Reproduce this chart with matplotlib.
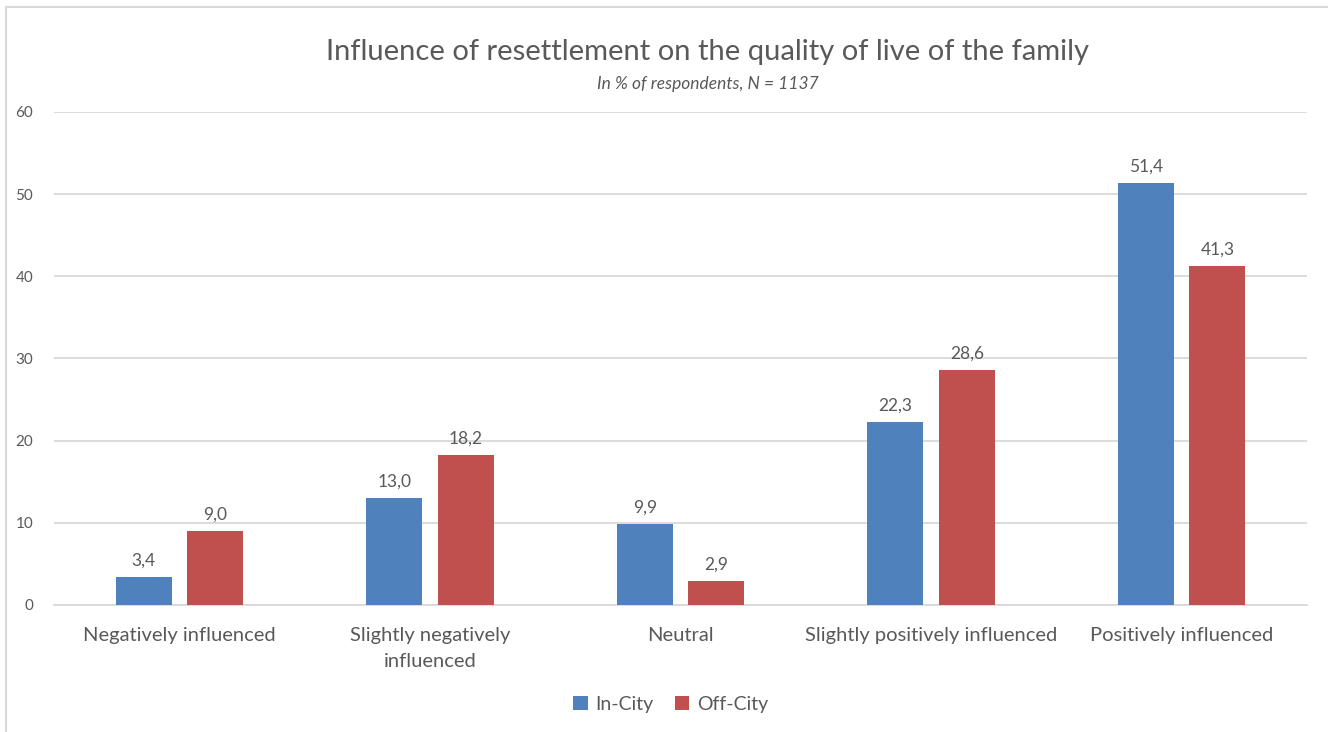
import numpy as np
import matplotlib
matplotlib.use('Agg')
from matplotlib import pyplot as plt
from matplotlib.patches import Rectangle

plt.rcParams['font.family'] = ['Lato', 'DejaVu Sans']

# Data
categories = ['Negatively influenced', 'Slightly negatively\ninfluenced', 'Neutral',
              'Slightly positively influenced', 'Positively influenced']
in_city = [3.4, 13.0, 9.9, 22.3, 51.4]
off_city = [9.0, 18.2, 2.9, 28.6, 41.3]
series_names = ['In-City', 'Off-City']
colors = ['#4f81bd', '#c0504d']
text_color = '#595959'

fig = plt.figure(figsize=(13.28, 7.32), dpi=100)
ax = fig.add_axes([0.0407, 0.1735, 0.9435, 0.6735])

# outer chart border (only top/left visible in the original crop)
fig.patches.append(Rectangle((6 / 1328, -0.1), 1.2, 1 - 7 / 732 + 0.1, transform=fig.transFigure,
                             fill=False, edgecolor='#d9d9d9', linewidth=1.5))

x = np.arange(len(categories))
width = 0.2235
offset = 0.1425

for i, (vals, name) in enumerate(zip([in_city, off_city], series_names)):
    pos = x - offset if i == 0 else x + offset
    bars = ax.bar(pos, vals, width, color=colors[i], label=name, zorder=3)
    for b, v in zip(bars, vals):
        ax.annotate(f'{v:.1f}'.replace('.', ','), (b.get_x() + b.get_width() / 2, v),
                    xytext=(0, 6), textcoords='offset points', ha='center', va='bottom',
                    fontsize=12.5, color=text_color)

ax.set_xlim(-0.5, len(categories) - 0.5)
ax.set_ylim(0, 60)
ax.set_yticks(range(0, 61, 10))
ax.grid(axis='y', color='#d9d9d9', linewidth=1.3, zorder=0)
for s in ['top', 'right', 'left']:
    ax.spines[s].set_visible(False)
ax.spines['bottom'].set_color('#d9d9d9')
ax.spines['bottom'].set_linewidth(1.3)
ax.tick_params(axis='y', length=0, pad=15, labelsize=11, labelcolor=text_color)
ax.tick_params(axis='x', length=0, pad=16, labelsize=14.5, labelcolor=text_color)
ax.set_xticks(x)
ax.set_xticklabels(categories, linespacing=1.6)

fig.text(0.533, 0.929, 'Influence of resettlement on the quality of live of the family',
         ha='center', va='center', fontsize=21, color=text_color)
fig.text(0.533, 0.885, 'In % of respondents, N = 1137', ha='center', va='center',
         fontsize=12.5, style='italic', color=text_color)

fig.legend(loc='center', bbox_to_anchor=(0.505, 0.038), ncol=2, frameon=False,
           fontsize=14, labelcolor=text_color, handlelength=0.75, handleheight=0.75,
           handletextpad=0.4, columnspacing=1.1)

plt.savefig('out.png', dpi=100)
